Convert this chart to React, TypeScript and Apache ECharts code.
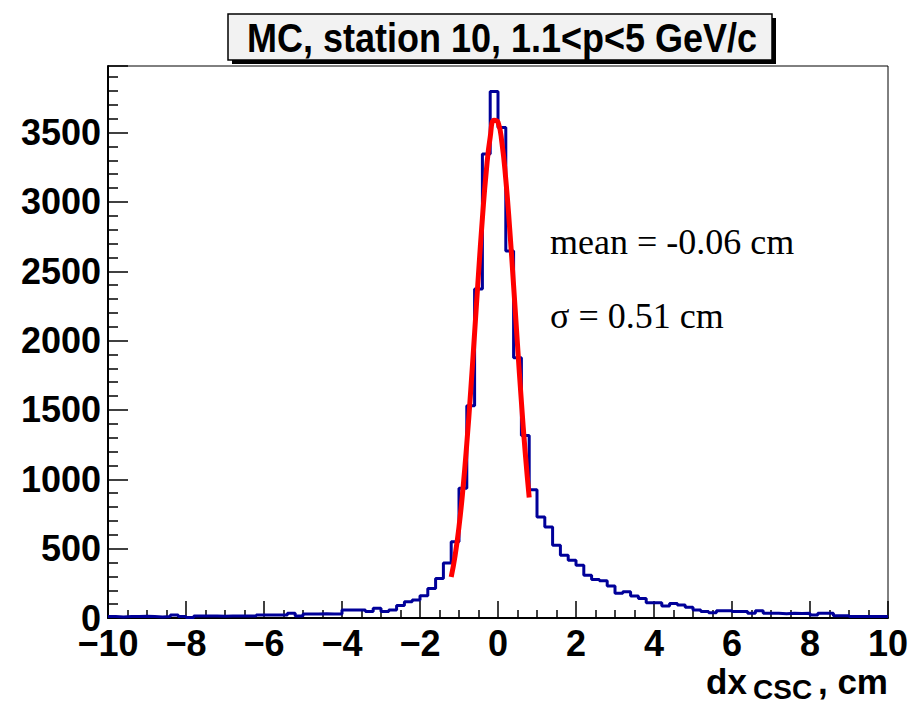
import React, { useEffect, useRef } from "react";
import * as echarts from "echarts";

// Histogram: 100 bins from -10 to 10 (width 0.2); counts per bin (left edge = -10 + 0.2*i)
const binStart = -10;
const binWidth = 0.2;
const counts = [
  10, 8, 10, 10, 12, 10, 8, 10,
  22, 10, 3,
  14, 14, 15, 13, 14, 14, 14, 14,
  22, 22, 21, 22,
  34, 14,
  29, 29, 30, 28, 29,
  58, 58, 58,
  46, 70, 46, 58, 90, 117, 129, 160, 213, 285, 397, 549, 935,
  1530, 2372, 3345, 3796, 3537, 2646, 1876, 1316, 925,
  728, 656, 525, 453, 417, 381, 309, 278, 268, 230,
  178, 189, 158, 141, 110, 110, 86, 105, 93, 77,
  58, 46, 38, 53, 53, 46, 46, 34, 53,
  34, 34, 30, 34, 32, 34,
  22, 34, 34, 17, 17,
  10, 10, 10, 10, 10,
];

// Gaussian fit curve as drawn (x in cm, y in entries)
const fitX = [-1.2, -1.1, -1.0, -0.9, -0.8, -0.7, -0.6, -0.5, -0.4, -0.3, -0.2, -0.1, 0.0, 0.1, 0.2, 0.3, 0.4, 0.5, 0.6, 0.7, 0.8];
const fitY = [296, 450, 658, 927, 1257, 1638, 2055, 2481, 2882, 3223, 3467, 3589, 3575, 3427, 3161, 2806, 2397, 1970, 1558, 1186, 869];

const xMin = -10;
const xMax = 10;
const xInterval = 2;
const yMin = 0;
const yMax = 3980;
const yInterval = 500;

const titleText = "MC, station 10, 1.1<p<5 GeV/c";
const meanText = "mean = -0.06 cm";
const sigmaText = "\u03c3 = 0.51 cm";

const SANS = "'Liberation Sans', Arial, Helvetica, sans-serif";
const SERIF = "'Liberation Serif', 'Times New Roman', serif";

export default function App() {
  const ref = useRef<HTMLDivElement | null>(null);

  useEffect(() => {
    if (!ref.current) return;
    const chart = echarts.init(ref.current, undefined, { renderer: "svg" });

    const histData: [number, number][] = counts.map((c, i) => [
      +(binStart + i * binWidth).toFixed(1),
      c,
    ]);
    histData.push([xMax, counts[counts.length - 1]]);
    const fitData = fitX.map((x, i) => [x, fitY[i]]);

    chart.setOption({
      animation: false,
      backgroundColor: "#ffffff",
      grid: {
        left: 108,
        right: 24,
        top: 66,
        bottom: 85,
        show: true,
        borderColor: "#000",
        borderWidth: 1,
        backgroundColor: "transparent",
        outerBoundsMode: "none",
      },
      xAxis: {
        type: "value",
        min: xMin,
        max: xMax,
        interval: xInterval,
        axisLine: { show: true, onZero: false, lineStyle: { color: "#000", width: 2 } },
        axisTick: { show: true, inside: true, length: 17, lineStyle: { color: "#000", width: 1.5 } },
        minorTick: { show: true, splitNumber: 4, length: 8, lineStyle: { color: "#000", width: 1.5 } },
        splitLine: { show: false },
        axisLabel: {
          color: "#000",
          fontFamily: SANS,
          fontWeight: "bold",
          fontSize: 36,
          margin: 7,
          formatter: (v: number) => String(v).replace("-", "\u2212"),
        },
      },
      yAxis: {
        type: "value",
        min: yMin,
        max: yMax,
        interval: yInterval,
        axisLine: { show: true, onZero: false, lineStyle: { color: "#000", width: 2 } },
        axisTick: { show: true, inside: true, length: 20, lineStyle: { color: "#000", width: 1.5 } },
        minorTick: { show: true, splitNumber: 5, length: 10, lineStyle: { color: "#000", width: 1.5 } },
        splitLine: { show: false },
        axisLabel: {
          color: "#000",
          fontFamily: SANS,
          fontWeight: "bold",
          fontSize: 36,
          margin: 7,
          showMaxLabel: false,
          formatter: (v: number) => String(v),
        },
      },
      series: [
        {
          type: "line",
          data: histData,
          step: "end",
          symbol: "none",
          lineStyle: { color: "#000099", width: 3 },
          z: 2,
        },
        {
          type: "line",
          data: fitData,
          smooth: true,
          symbol: "none",
          lineStyle: { color: "#ff0000", width: 5 },
          z: 3,
        },
      ],
      graphic: [
        {
          type: "rect",
          shape: { x: 232, y: 18, width: 544, height: 46 },
          style: { fill: "#000" },
          z: 10,
        },
        {
          type: "rect",
          shape: { x: 228, y: 14, width: 544, height: 46 },
          style: { fill: "#f2f2f2", stroke: "#000", lineWidth: 1.5 },
          z: 11,
        },
        {
          type: "text",
          x: 502,
          y: 38,
          scaleX: 0.9,
          style: {
            text: titleText,
            fontFamily: SANS,
            fontWeight: "bold",
            fontSize: 40,
            fill: "#000",
            align: "center",
            verticalAlign: "middle",
          },
          z: 12,
        },
        {
          type: "text",
          x: 550,
          y: 260,
          style: {
            text: meanText,
            fontFamily: SERIF,
            fontSize: 36,
            fill: "#000",
            align: "left",
            verticalAlign: "bottom",
          },
          z: 12,
        },
        {
          type: "text",
          x: 550,
          y: 334,
          style: {
            text: sigmaText,
            fontFamily: SERIF,
            fontSize: 36,
            fill: "#000",
            align: "left",
            verticalAlign: "bottom",
          },
          z: 12,
        },
        {
          type: "text",
          x: 706,
          y: 699,
          style: {
            text: "dx",
            fontFamily: SANS,
            fontWeight: "bold",
            fontSize: 35,
            fill: "#000",
            align: "left",
            verticalAlign: "bottom",
          },
          z: 12,
        },
        {
          type: "text",
          x: 753,
          y: 703,
          style: {
            text: "CSC",
            fontFamily: SANS,
            fontWeight: "bold",
            fontSize: 28,
            fill: "#000",
            align: "left",
            verticalAlign: "bottom",
          },
          z: 12,
        },
        {
          type: "text",
          x: 888,
          y: 699,
          style: {
            text: ", cm",
            fontFamily: SANS,
            fontWeight: "bold",
            fontSize: 35,
            fill: "#000",
            align: "right",
            verticalAlign: "bottom",
          },
          z: 12,
        },
      ],
    });

    return () => {
      chart.dispose();
    };
  }, []);

  return (
    <div
      ref={ref}
      style={{ position: "fixed", left: 0, top: 0, width: 912, height: 703, background: "#fff" }}
    />
  );
}
